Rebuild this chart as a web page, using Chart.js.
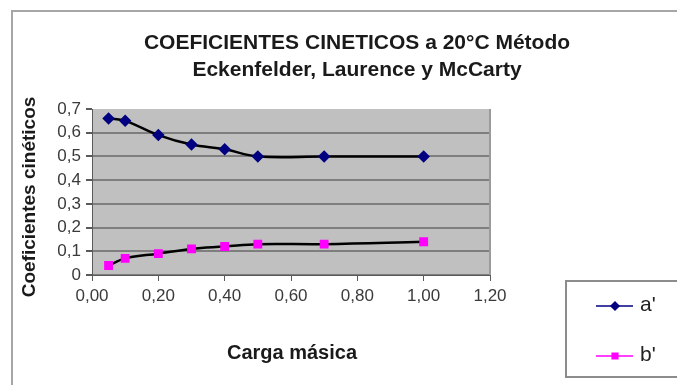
<!DOCTYPE html>
<html>
<head>
<meta charset="utf-8">
<script src="https://cdn.jsdelivr.net/npm/chart.js@4"></script>
<style>
  html, body { margin: 0; padding: 0; background: #fff; }
  canvas { display: block; }
</style>
</head>
<body>
<canvas id="c" width="677" height="385"></canvas>
<script>
// Carga másica (x) and the two kinetic coefficients a' and b'
const cargaMasica = [0.05, 0.10, 0.20, 0.30, 0.40, 0.50, 0.70, 1.00];
const coefA = [0.66, 0.65, 0.59, 0.55, 0.53, 0.50, 0.50, 0.50];
const coefB = [0.04, 0.07, 0.09, 0.11, 0.12, 0.13, 0.13, 0.14];
const seriesNames = ["a'", "b'"];
const titleLines = ['COEFICIENTES CINETICOS a 20°C Método', 'Eckenfelder, Laurence y McCarty'];
const xAxisTitle = 'Carga másica';
const yAxisTitle = 'Coeficientes cinéticos';

const FONT = '"Liberation Sans", Arial, sans-serif';
const pts = (ys) => cargaMasica.map((x, i) => ({ x: x, y: ys[i] }));
const comma = (v, d) => v.toFixed(d).replace('.', ',');

// Frame, plot background, titles and the legend box
const decor = {
  id: 'decor',
  beforeDraw(chart) {
    const { ctx, chartArea: a } = chart;
    ctx.save();
    ctx.fillStyle = '#c0c0c0';
    ctx.fillRect(a.left, a.top, a.right - a.left, a.bottom - a.top);
    ctx.restore();
  },
  afterDraw(chart) {
    const { ctx, chartArea: a } = chart;
    ctx.save();
    // outer frame
    ctx.strokeStyle = '#a6a6a6';
    ctx.lineWidth = 2;
    ctx.strokeRect(12, 11, 700, 400);
    // right edge of plot
    ctx.strokeStyle = '#9a9a9a';
    ctx.lineWidth = 2;
    ctx.beginPath();
    ctx.moveTo(a.right, a.top);
    ctx.lineTo(a.right, a.bottom);
    ctx.stroke();

    // title
    ctx.fillStyle = '#1a1a1a';
    ctx.textAlign = 'center';
    ctx.textBaseline = 'middle';
    ctx.font = 'bold 21px ' + FONT;
    ctx.fillText(titleLines[0], 357, 43);
    ctx.fillText(titleLines[1], 357, 70);

    // axis titles
    ctx.font = 'bold 20px ' + FONT;
    ctx.fillText(xAxisTitle, 292, 353);
    ctx.save();
    ctx.translate(30, 197);
    ctx.rotate(-Math.PI / 2);
    ctx.font = 'bold 19px ' + FONT;
    ctx.fillText(yAxisTitle, 0, 0);
    ctx.restore();

    // legend
    ctx.strokeStyle = '#8c8c8c';
    ctx.lineWidth = 2;
    ctx.strokeRect(566, 281, 140, 96);
    const items = [
      { name: seriesNames[0], color: '#000080', style: 'rectRot', y: 306 },
      { name: seriesNames[1], color: '#ff00ff', style: 'rect', y: 356 }
    ];
    items.forEach(it => {
      ctx.strokeStyle = it.color;
      ctx.lineWidth = 1.5;
      ctx.beginPath();
      ctx.moveTo(596, it.y);
      ctx.lineTo(633, it.y);
      ctx.stroke();
      ctx.fillStyle = it.color;
      Chart.helpers.drawPoint(ctx, { pointStyle: it.style, radius: 4, borderWidth: 1 }, 615, it.y);
      ctx.fillStyle = '#222';
      ctx.textAlign = 'left';
      ctx.font = '21px ' + FONT;
      ctx.fillText(it.name, 640, it.y - 1);
    });
    ctx.restore();
  }
};

new Chart(document.getElementById('c'), {
  type: 'scatter',
  data: {
    datasets: [
      {
        label: seriesNames[0],
        data: pts(coefA),
        showLine: true,
        borderColor: '#000000',
        borderWidth: 2.5,
        tension: 0.4,
        pointStyle: 'rectRot',
        pointRadius: 4.5,
        pointBackgroundColor: '#000080',
        pointBorderColor: '#000080'
      },
      {
        label: seriesNames[1],
        data: pts(coefB),
        showLine: true,
        borderColor: '#000000',
        borderWidth: 2.5,
        tension: 0.4,
        pointStyle: 'rect',
        pointRadius: 4.5,
        pointBackgroundColor: '#ff00ff',
        pointBorderColor: '#ff00ff'
      }
    ]
  },
  options: {
    responsive: false,
    animation: false,
    layout: { padding: { top: 109, left: 0, right: 187, bottom: 0 } },
    plugins: {
      legend: { display: false },
      title: { display: false },
      tooltip: { enabled: false }
    },
    scales: {
      x: {
        type: 'linear',
        min: 0, max: 1.2,
        afterFit(s) { s.height = 110; },
        border: { display: true, color: '#5a5a5a', width: 1 },
        grid: { drawOnChartArea: false, drawTicks: true, tickLength: 6, tickColor: '#5a5a5a' },
        ticks: {
          stepSize: 0.2,
          padding: 5,
          color: '#3a3a3a',
          font: { family: FONT, size: 17 },
          callback: v => comma(v, 2)
        }
      },
      y: {
        type: 'linear',
        min: 0, max: 0.7,
        afterFit(s) { s.width = 92; },
        border: { display: true, color: '#5a5a5a', width: 1 },
        grid: {
          color: c => (c.tick && c.tick.value > 0.65) ? 'rgba(0,0,0,0)' : '#7e7e7e',
          lineWidth: 2,
          drawTicks: true,
          tickLength: 6,
          tickColor: '#5a5a5a'
        },
        ticks: {
          stepSize: 0.1,
          padding: 5,
          color: '#3a3a3a',
          font: { family: FONT, size: 17 },
          callback: v => v === 0 ? '0' : comma(v, 1)
        }
      }
    }
  },
  plugins: [decor]
});
</script>
</body>
</html>
